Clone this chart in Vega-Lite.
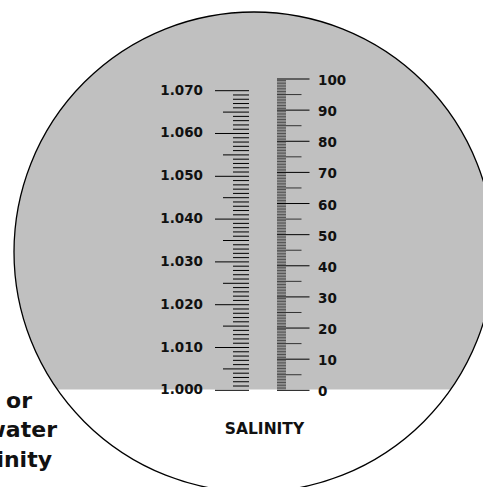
{
  "$schema": "https://vega.github.io/schema/vega-lite/v6.json",
  "width": 483,
  "height": 487,
  "padding": 0,
  "autosize": "none",
  "background": "white",
  "config": {
    "view": {"stroke": null},
    "text": {"font": "DejaVu Sans", "fontWeight": "bold", "color": "#111111"}
  },
  "datasets": {
    "sgMajor": [{"sg":1.000},{"sg":1.010},{"sg":1.020},{"sg":1.030},{"sg":1.040},{"sg":1.050},{"sg":1.060},{"sg":1.070}],
    "sgHalf": [{"sg":1.005},{"sg":1.015},{"sg":1.025},{"sg":1.035},{"sg":1.045},{"sg":1.055},{"sg":1.065}],
    "sgMinor": [
      {"sg":1.001},{"sg":1.002},{"sg":1.003},{"sg":1.004},{"sg":1.006},{"sg":1.007},{"sg":1.008},{"sg":1.009},
      {"sg":1.011},{"sg":1.012},{"sg":1.013},{"sg":1.014},{"sg":1.016},{"sg":1.017},{"sg":1.018},{"sg":1.019},
      {"sg":1.021},{"sg":1.022},{"sg":1.023},{"sg":1.024},{"sg":1.026},{"sg":1.027},{"sg":1.028},{"sg":1.029},
      {"sg":1.031},{"sg":1.032},{"sg":1.033},{"sg":1.034},{"sg":1.036},{"sg":1.037},{"sg":1.038},{"sg":1.039},
      {"sg":1.041},{"sg":1.042},{"sg":1.043},{"sg":1.044},{"sg":1.046},{"sg":1.047},{"sg":1.048},{"sg":1.049},
      {"sg":1.051},{"sg":1.052},{"sg":1.053},{"sg":1.054},{"sg":1.056},{"sg":1.057},{"sg":1.058},{"sg":1.059},
      {"sg":1.061},{"sg":1.062},{"sg":1.063},{"sg":1.064},{"sg":1.066},{"sg":1.067},{"sg":1.068},{"sg":1.069}
    ],
    "salMajor": [{"ppt":0},{"ppt":10},{"ppt":20},{"ppt":30},{"ppt":40},{"ppt":50},{"ppt":60},{"ppt":70},{"ppt":80},{"ppt":90},{"ppt":100}],
    "salHalf": [{"ppt":5},{"ppt":15},{"ppt":25},{"ppt":35},{"ppt":45},{"ppt":55},{"ppt":65},{"ppt":75},{"ppt":85},{"ppt":95}],
    "salMinor": [
      {"ppt":0.5},{"ppt":1},{"ppt":1.5},{"ppt":2},{"ppt":2.5},{"ppt":3},{"ppt":3.5},{"ppt":4},{"ppt":4.5},{"ppt":5.5},{"ppt":6},{"ppt":6.5},{"ppt":7},{"ppt":7.5},{"ppt":8},{"ppt":8.5},{"ppt":9},{"ppt":9.5},
      {"ppt":10.5},{"ppt":11},{"ppt":11.5},{"ppt":12},{"ppt":12.5},{"ppt":13},{"ppt":13.5},{"ppt":14},{"ppt":14.5},{"ppt":15.5},{"ppt":16},{"ppt":16.5},{"ppt":17},{"ppt":17.5},{"ppt":18},{"ppt":18.5},{"ppt":19},{"ppt":19.5},
      {"ppt":20.5},{"ppt":21},{"ppt":21.5},{"ppt":22},{"ppt":22.5},{"ppt":23},{"ppt":23.5},{"ppt":24},{"ppt":24.5},{"ppt":25.5},{"ppt":26},{"ppt":26.5},{"ppt":27},{"ppt":27.5},{"ppt":28},{"ppt":28.5},{"ppt":29},{"ppt":29.5},
      {"ppt":30.5},{"ppt":31},{"ppt":31.5},{"ppt":32},{"ppt":32.5},{"ppt":33},{"ppt":33.5},{"ppt":34},{"ppt":34.5},{"ppt":35.5},{"ppt":36},{"ppt":36.5},{"ppt":37},{"ppt":37.5},{"ppt":38},{"ppt":38.5},{"ppt":39},{"ppt":39.5},
      {"ppt":40.5},{"ppt":41},{"ppt":41.5},{"ppt":42},{"ppt":42.5},{"ppt":43},{"ppt":43.5},{"ppt":44},{"ppt":44.5},{"ppt":45.5},{"ppt":46},{"ppt":46.5},{"ppt":47},{"ppt":47.5},{"ppt":48},{"ppt":48.5},{"ppt":49},{"ppt":49.5},
      {"ppt":50.5},{"ppt":51},{"ppt":51.5},{"ppt":52},{"ppt":52.5},{"ppt":53},{"ppt":53.5},{"ppt":54},{"ppt":54.5},{"ppt":55.5},{"ppt":56},{"ppt":56.5},{"ppt":57},{"ppt":57.5},{"ppt":58},{"ppt":58.5},{"ppt":59},{"ppt":59.5},
      {"ppt":60.5},{"ppt":61},{"ppt":61.5},{"ppt":62},{"ppt":62.5},{"ppt":63},{"ppt":63.5},{"ppt":64},{"ppt":64.5},{"ppt":65.5},{"ppt":66},{"ppt":66.5},{"ppt":67},{"ppt":67.5},{"ppt":68},{"ppt":68.5},{"ppt":69},{"ppt":69.5},
      {"ppt":70.5},{"ppt":71},{"ppt":71.5},{"ppt":72},{"ppt":72.5},{"ppt":73},{"ppt":73.5},{"ppt":74},{"ppt":74.5},{"ppt":75.5},{"ppt":76},{"ppt":76.5},{"ppt":77},{"ppt":77.5},{"ppt":78},{"ppt":78.5},{"ppt":79},{"ppt":79.5},
      {"ppt":80.5},{"ppt":81},{"ppt":81.5},{"ppt":82},{"ppt":82.5},{"ppt":83},{"ppt":83.5},{"ppt":84},{"ppt":84.5},{"ppt":85.5},{"ppt":86},{"ppt":86.5},{"ppt":87},{"ppt":87.5},{"ppt":88},{"ppt":88.5},{"ppt":89},{"ppt":89.5},
      {"ppt":90.5},{"ppt":91},{"ppt":91.5},{"ppt":92},{"ppt":92.5},{"ppt":93},{"ppt":93.5},{"ppt":94},{"ppt":94.5},{"ppt":95.5},{"ppt":96},{"ppt":96.5},{"ppt":97},{"ppt":97.5},{"ppt":98},{"ppt":98.5},{"ppt":99},{"ppt":99.5}
    ],
    "fieldOfView": [{"item": "field of view"}]
  },
  "layer": [
    {
      "layer": [
        {
          "data": {"name": "fieldOfView"},
          "mark": {"type": "point", "shape": "circle", "filled": true, "color": "#c0c0c0", "strokeWidth": 0, "size": 230400, "opacity": 1},
          "encoding": {
            "x": {"datum": 254, "type": "quantitative", "scale": {"domain": [0, 483], "nice": false, "zero": false}, "axis": null},
            "y": {"datum": 44.43, "type": "quantitative", "scale": {"domain": [-31.06, 125.38], "nice": false, "zero": false}, "axis": null}
          }
        },
        {
          "data": {"name": "fieldOfView"},
          "mark": {"type": "rect", "color": "white"},
          "encoding": {
            "x": {"datum": -10, "type": "quantitative"},
            "x2": {"datum": 500},
            "y": {"datum": 0.3, "type": "quantitative"},
            "y2": {"datum": -40}
          }
        },
        {
          "data": {"name": "fieldOfView"},
          "mark": {"type": "point", "shape": "circle", "filled": false, "stroke": "black", "strokeWidth": 1.3, "size": 230400, "opacity": 1},
          "encoding": {
            "x": {"datum": 254, "type": "quantitative"},
            "y": {"datum": 44.43, "type": "quantitative"}
          }
        },
        {
          "data": {"name": "salMinor"},
          "mark": {"type": "rule", "color": "#222222", "strokeWidth": 0.7},
          "encoding": {
            "x": {"datum": 277, "type": "quantitative"},
            "x2": {"datum": 286},
            "y": {"field": "ppt", "type": "quantitative"}
          }
        },
        {
          "data": {"name": "salHalf"},
          "mark": {"type": "rule", "color": "#222222", "strokeWidth": 0.9},
          "encoding": {
            "x": {"datum": 277, "type": "quantitative"},
            "x2": {"datum": 301.5},
            "y": {"field": "ppt", "type": "quantitative"}
          }
        },
        {
          "data": {"name": "salMajor"},
          "mark": {"type": "rule", "color": "black", "strokeWidth": 1},
          "encoding": {
            "x": {"datum": 277, "type": "quantitative"},
            "x2": {"datum": 309.5},
            "y": {"field": "ppt", "type": "quantitative"}
          }
        },
        {
          "data": {"name": "salMajor"},
          "mark": {"type": "text", "align": "left", "baseline": "middle", "dy": 2, "fontSize": 13.5},
          "encoding": {
            "x": {"datum": 318, "type": "quantitative"},
            "y": {"field": "ppt", "type": "quantitative"},
            "text": {"field": "ppt", "type": "quantitative", "format": "d"}
          }
        },
        {
          "data": {"name": "fieldOfView"},
          "mark": {"type": "text", "text": "SALINITY", "align": "center", "baseline": "alphabetic", "fontSize": 15.5},
          "encoding": {
            "x": {"datum": 264.5, "type": "quantitative"},
            "y": {"datum": -14.13, "type": "quantitative"}
          }
        },
        {
          "data": {"name": "fieldOfView"},
          "mark": {"type": "text", "text": "or", "align": "right", "baseline": "alphabetic", "fontSize": 22},
          "encoding": {
            "x": {"datum": 32, "type": "quantitative"},
            "y": {"datum": -5.78, "type": "quantitative"}
          }
        },
        {
          "data": {"name": "fieldOfView"},
          "mark": {"type": "text", "text": "water", "align": "right", "baseline": "alphabetic", "fontSize": 22},
          "encoding": {
            "x": {"datum": 57, "type": "quantitative"},
            "y": {"datum": -14.9, "type": "quantitative"}
          }
        },
        {
          "data": {"name": "fieldOfView"},
          "mark": {"type": "text", "text": "inity", "align": "right", "baseline": "alphabetic", "fontSize": 22},
          "encoding": {
            "x": {"datum": 52, "type": "quantitative"},
            "y": {"datum": -24.5, "type": "quantitative"}
          }
        }
      ]
    },
    {
      "layer": [
        {
          "data": {"name": "sgMinor"},
          "mark": {"type": "rule", "color": "black", "strokeWidth": 1},
          "encoding": {
            "x": {"datum": 233, "type": "quantitative"},
            "x2": {"datum": 249},
            "y": {"field": "sg", "type": "quantitative", "scale": {"domain": [0.97741, 1.09119], "nice": false, "zero": false}, "axis": null}
          }
        },
        {
          "data": {"name": "sgHalf"},
          "mark": {"type": "rule", "color": "black", "strokeWidth": 1},
          "encoding": {
            "x": {"datum": 223, "type": "quantitative"},
            "x2": {"datum": 249},
            "y": {"field": "sg", "type": "quantitative"}
          }
        },
        {
          "data": {"name": "sgMajor"},
          "mark": {"type": "rule", "color": "black", "strokeWidth": 1},
          "encoding": {
            "x": {"datum": 215, "type": "quantitative"},
            "x2": {"datum": 249},
            "y": {"field": "sg", "type": "quantitative"}
          }
        },
        {
          "data": {"name": "sgMajor"},
          "mark": {"type": "text", "align": "right", "baseline": "middle", "fontSize": 13.5},
          "encoding": {
            "x": {"datum": 203, "type": "quantitative"},
            "y": {"field": "sg", "type": "quantitative"},
            "text": {"field": "sg", "type": "quantitative", "format": ".3f"}
          }
        }
      ]
    }
  ],
  "resolve": {"scale": {"y": "independent"}}
}
